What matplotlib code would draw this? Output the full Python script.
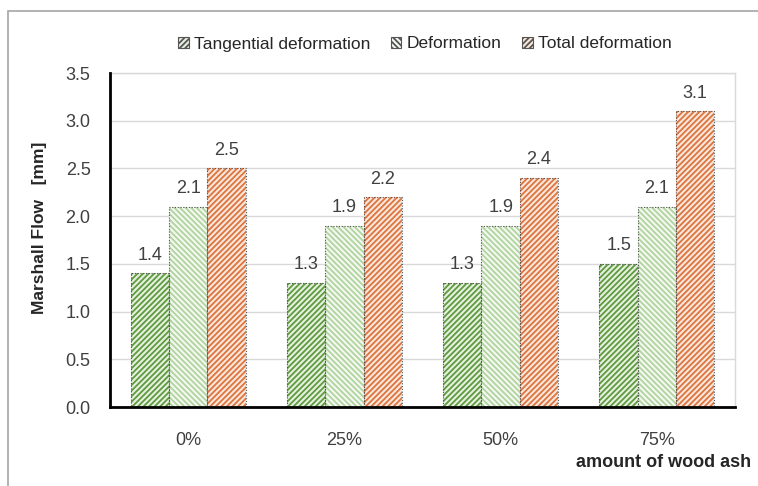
import matplotlib
matplotlib.use("Agg")
import matplotlib.pyplot as plt
import numpy as np
from matplotlib.patches import Rectangle

# data
categories = ["0%", "25%", "50%", "75%"]
series_names = ["Tangential deformation", "Deformation", "Total deformation"]
tangential = [1.4, 1.3, 1.3, 1.5]
deformation = [2.1, 1.9, 1.9, 2.1]
total = [2.5, 2.2, 2.4, 3.1]
y_ticks = [0.0, 0.5, 1.0, 1.5, 2.0, 2.5, 3.0, 3.5]

plt.rcParams["font.family"] = ["Liberation Sans", "DejaVu Sans"]
plt.rcParams["hatch.linewidth"] = 1.3

W, H = 758, 486
fig = plt.figure(figsize=(W / 100, H / 100), dpi=100)
fig.patch.set_facecolor("white")

# outer chart-area frame (cut off on right/bottom)
fig.patches.append(Rectangle((8 / W, -0.1), 1.2, 1.1 - 11 / H,
                             transform=fig.transFigure, fill=False,
                             edgecolor="#a6a6a6", linewidth=1.2))

left, right, top, bottom = 110, 735, 73, 407
ax = fig.add_axes([left / W, 1 - bottom / H, (right - left) / W, (bottom - top) / H])

x = np.arange(len(categories))
width = 0.245
# (face, hatch colour, hatch)
styles = [
    ("#e6f0de", "#5e9a3f", "//////"),
    ("#f4f9f0", "#b0d3a0", "\\\\\\\\\\\\"),
    ("#fbe6da", "#dc7440", "//////"),
]
series = [tangential, deformation, total]

handles = []
for i, (vals, (face, col, hatch)) in enumerate(zip(series, styles)):
    pos = x + (i - 1) * width
    b = ax.bar(pos, vals, width, color=face, edgecolor=col, hatch=hatch,
               linewidth=0, zorder=3, label=series_names[i])
    ax.bar(pos, vals, width, fill=False, edgecolor="#555555", linestyle=(0, (1, 1.5)),
           linewidth=0.8, zorder=4)
    handles.append(b)
    for p, v in zip(pos, vals):
        ax.text(p, v + 0.1, f"{v:.1f}", ha="center", va="bottom",
                fontsize=13, color="#404040")

ax.set_ylim(0, 3.5)
ax.set_xlim(-0.5, len(categories) - 0.5)
ax.set_yticks(y_ticks)
ax.set_yticklabels([f"{t:.1f}" for t in y_ticks])
ax.set_xticks(x)
ax.set_xticklabels(categories)
ax.tick_params(axis="both", length=0, labelsize=13, colors="#404040")
ax.tick_params(axis="y", pad=14)
ax.tick_params(axis="x", pad=18)

ax.grid(axis="y", color="#d9d9d9", linewidth=1, zorder=0)
ax.set_axisbelow(True)
for s in ("top", "right"):
    ax.spines[s].set_color("#d9d9d9")
    ax.spines[s].set_linewidth(1)
for s in ("left", "bottom"):
    ax.spines[s].set_color("black")
    ax.spines[s].set_linewidth(2)
    ax.spines[s].set_zorder(5)

fig.text(40 / W, 1 - 228 / H, "Marshall Flow   [mm]", rotation=90, ha="center",
         va="center", fontsize=12.5, fontweight="bold", color="#262626")
fig.text(576 / W, 1 - 462 / H, "amount of wood ash", ha="left", va="center",
         fontsize=13, fontweight="bold", color="#262626")

leg = fig.legend(handles=handles, labels=series_names, loc="center",
                 bbox_to_anchor=(425 / W, 1 - 44 / H), ncol=3, frameon=False,
                 fontsize=12.5, handlelength=0.6, handleheight=0.6,
                 handletextpad=0.3, columnspacing=1.2)
for t in leg.get_texts():
    t.set_color("#262626")
for h in leg.legend_handles:
    h.set_linewidth(0.8)
    h.set_edgecolor("#555555")

fig.savefig("out.png", dpi=100)
